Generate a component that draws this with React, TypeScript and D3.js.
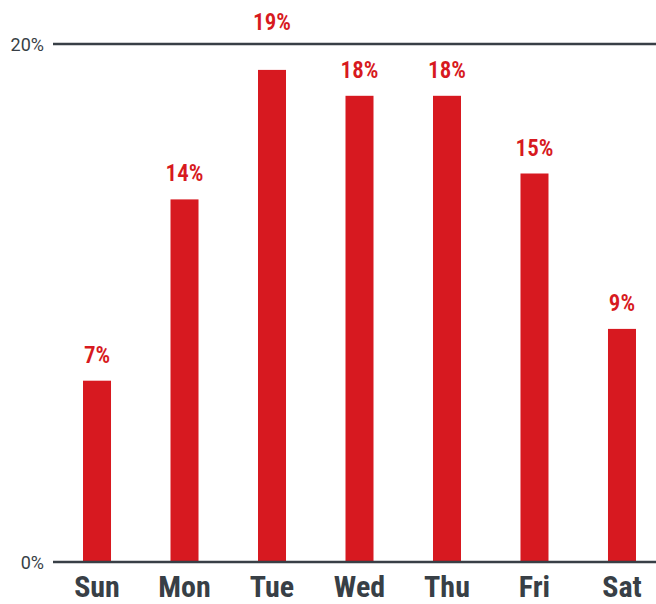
import React from "react";
import * as d3 from "d3";

const days = ["Sun", "Mon", "Tue", "Wed", "Thu", "Fri", "Sat"];
const shares = [7, 14, 19, 18, 18, 15, 9];
const yTicks = [0, 20];

const W = 656;
const H = 604;
const RED = "#d71920";
const GRAY = "#383f46";
const FONT = "'Liberation Sans Narrow', 'Roboto Condensed', 'Liberation Sans', sans-serif";

export default function App() {
  const x = d3.scaleBand<string>().domain(days).range([53, 666]).paddingInner(0.68).paddingOuter(0.343);
  const y = d3.scaleLinear().domain([0, 20]).range([562, 44]);
  const top = y(20);

  return (
    <div style={{ position: "absolute", left: 0, top: 0 }}>
      <svg width={W} height={H} style={{ display: "block" }}>
        {shares.map((v, i) => {
          const d = days[i];
          const bx = x(d) as number;
          return (
            <rect key={d} x={bx} y={y(v)} width={x.bandwidth()} height={y(0) - y(v) + 1} fill={RED} />
          );
        })}
        {yTicks.map((t) => (
          <g key={t}>
            <line x1={53} x2={W} y1={y(t)} y2={y(t)} stroke={GRAY} strokeWidth={2.5} />
            <text x={44} y={y(t) + 6.5} textAnchor="end" fontFamily="Roboto, sans-serif" fontSize={18} fill={GRAY}>
              {t}%
            </text>
          </g>
        ))}
        {shares.map((v, i) => {
          const d = days[i];
          const cx = (x(d) as number) + x.bandwidth() / 2;
          let by = y(v) - 18;
          if (by > top && by - 17 < top + 3) by = top - 14;
          return (
            <text key={d} x={cx} y={by} textAnchor="middle" fontFamily={FONT} fontWeight={600} fontSize={23} fill={RED}>
              {v}%
            </text>
          );
        })}
        {days.map((d) => (
          <text
            key={d}
            x={(x(d) as number) + x.bandwidth() / 2}
            y={597}
            textAnchor="middle"
            fontFamily={FONT}
            fontWeight="bold"
            fontSize={30}
            fill={GRAY}
          >
            {d}
          </text>
        ))}
      </svg>
    </div>
  );
}
